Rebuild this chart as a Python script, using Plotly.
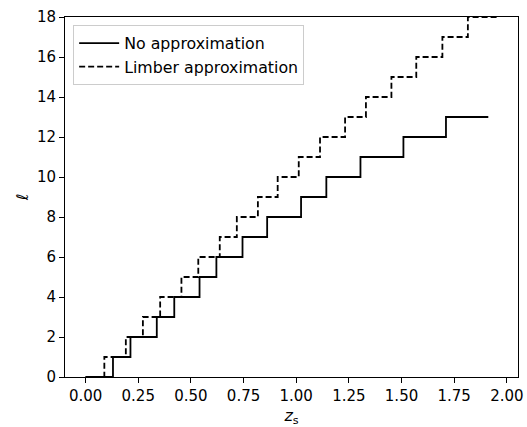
import plotly.graph_objects as go

# Step edges (z_s where each ell level starts) and the final end point
z_no_approx = [0.0, 0.13, 0.213, 0.338, 0.421, 0.541, 0.621, 0.745, 0.862,
               1.023, 1.143, 1.305, 1.509, 1.711, 1.912]
ell_no_approx = [0, 1, 2, 3, 4, 5, 6, 7, 8, 9, 10, 11, 12, 13, 13]

z_limber = [0.0, 0.089, 0.191, 0.272, 0.354, 0.455, 0.535, 0.637, 0.718,
            0.818, 0.912, 1.012, 1.113, 1.232, 1.331, 1.452, 1.570, 1.694,
            1.815, 1.955]
ell_limber = [0, 1, 2, 3, 4, 5, 6, 7, 8, 9, 10, 11, 12, 13, 14, 15, 16, 17,
              18, 18]

x_ticks = [0.0, 0.25, 0.5, 0.75, 1.0, 1.25, 1.5, 1.75, 2.0]
y_ticks = [0, 2, 4, 6, 8, 10, 12, 14, 16, 18]

font_family = "DejaVu Sans"
fs = 15

fig = go.Figure()
fig.add_trace(go.Scatter(
    x=z_no_approx, y=ell_no_approx, mode="lines", line_shape="hv",
    name="No approximation",
    line=dict(color="black", width=1.8),
))
fig.add_trace(go.Scatter(
    x=z_limber, y=ell_limber, mode="lines", line_shape="hv",
    name="Limber approximation",
    line=dict(color="black", width=1.8, dash="6px,3px"),
))

axis_common = dict(
    showgrid=False, zeroline=False, showline=True, linecolor="black",
    linewidth=1, mirror=True, ticks="outside", ticklen=5, tickwidth=1,
    tickcolor="black", automargin=False,
    tickfont=dict(family=font_family, size=fs, color="black"),
)

fig.update_layout(
    width=527, height=427,
    margin=dict(l=65, r=9, t=17, b=50),
    plot_bgcolor="white", paper_bgcolor="white",
    font=dict(family=font_family, size=fs, color="black"),
    xaxis=dict(range=[-0.0978, 2.053], tickvals=x_ticks,
               ticktext=[f"{v:.2f}" for v in x_ticks],
               title=dict(text="<i>z</i><sub>s</sub>", standoff=9,
                          font=dict(family=font_family, size=16)),
               **axis_common),
    yaxis=dict(range=[0, 18], tickvals=y_ticks,
               title=dict(text="<i>ℓ</i>", standoff=4,
                          font=dict(family=font_family, size=16)),
               **axis_common),
    legend=dict(x=0.018, y=0.977, xanchor="left", yanchor="top",
                bgcolor="rgba(255,255,255,0.8)", bordercolor="#cccccc",
                borderwidth=1, font=dict(family=font_family, size=15.8),
                itemwidth=40),
    showlegend=True,
)

fig.write_html("out.html")
